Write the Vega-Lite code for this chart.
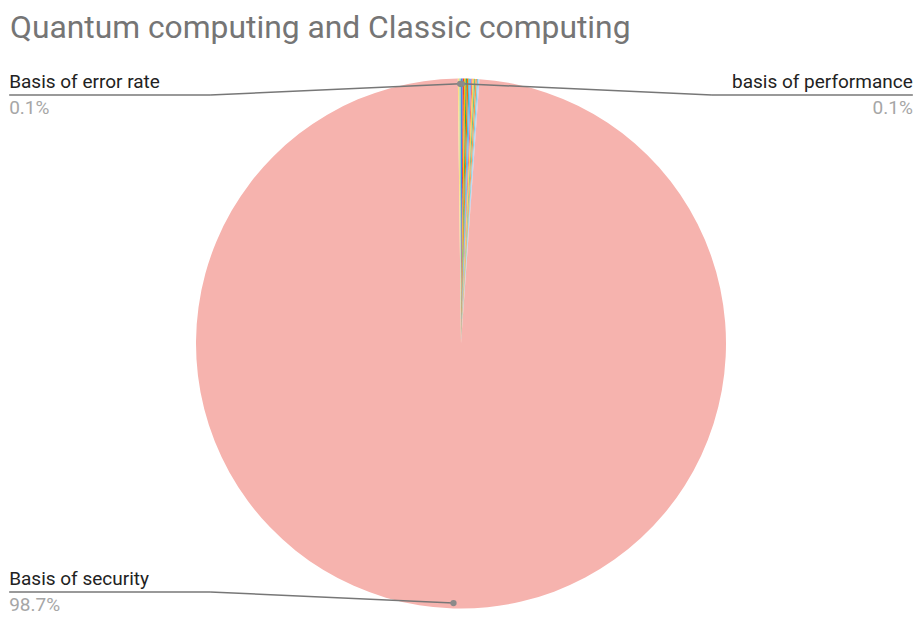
{
  "$schema": "https://vega.github.io/schema/vega-lite/v6.json",
  "width": 915,
  "height": 568,
  "autosize": "none",
  "padding": {"top": 50, "left": 0, "right": 0, "bottom": 0},
  "background": "white",
  "title": {
    "text": "Quantum computing and Classic computing",
    "anchor": "start",
    "frame": "group",
    "orient": "top",
    "offset": 10,
    "dx": 10,
    "dy": 30,
    "baseline": "alphabetic",
    "font": "Roboto",
    "fontSize": 31.8,
    "fontWeight": "normal",
    "color": "#757575"
  },
  "config": {
    "view": {"stroke": null},
    "text": {"font": "Roboto"}
  },
  "data": {
    "values": [
      {"rank": 1, "name": "basis of performance", "value": 0.1},
      {"rank": 2, "name": "Criterion 2", "value": 0.09},
      {"rank": 3, "name": "Criterion 3", "value": 0.09},
      {"rank": 4, "name": "Criterion 4", "value": 0.08},
      {"rank": 5, "name": "Criterion 5", "value": 0.09},
      {"rank": 6, "name": "Criterion 6", "value": 0.08},
      {"rank": 7, "name": "Criterion 7", "value": 0.09},
      {"rank": 8, "name": "Criterion 8", "value": 0.08},
      {"rank": 9, "name": "Criterion 9", "value": 0.09},
      {"rank": 10, "name": "Criterion 10", "value": 0.08},
      {"rank": 11, "name": "Criterion 11", "value": 0.09},
      {"rank": 12, "name": "Criterion 12", "value": 0.08},
      {"rank": 13, "name": "Criterion 13", "value": 0.07},
      {"rank": 14, "name": "Basis of security", "value": 98.7},
      {"rank": 15, "name": "Criterion 15", "value": 0.09},
      {"rank": 16, "name": "Basis of error rate", "value": 0.1}
    ]
  },
  "transform": [
    {"joinaggregate": [{"op": "sum", "field": "value", "as": "total"}]},
    {"window": [{"op": "sum", "field": "value", "as": "cum"}], "sort": [{"field": "rank"}], "frame": [null, 0]},
    {"calculate": "(datum.cum - datum.value / 2) / datum.total * 2 * PI", "as": "mid"},
    {"calculate": "0.98 * sin(datum.mid)", "as": "au"},
    {"calculate": "0.98 * cos(datum.mid)", "as": "av"},
    {"calculate": "datum.au < 0 ? -1 : 1", "as": "side"},
    {"calculate": "0.957 * datum.av", "as": "ly"},
    {"calculate": "datum.side * 1.705", "as": "edge"},
    {"calculate": "datum.side * 0.947", "as": "elbow"},
    {"calculate": "format(datum.value / datum.total, '.1%')", "as": "pct"},
    {"calculate": "0", "as": "cx"}
  ],
  "layer": [
    {
      "mark": {"type": "arc", "radius": 265},
      "encoding": {
        "x": {"field": "cx", "type": "quantitative", "axis": null,
              "scale": {"domain": [-1.7396, 1.7132], "zero": false, "nice": false}},
        "y": {"field": "cx", "type": "quantitative", "axis": null,
              "scale": {"domain": [-1.0358, 1.1075], "zero": false, "nice": false}},
        "theta": {"field": "value", "type": "quantitative", "stack": true},
        "order": {"field": "rank", "type": "quantitative"},
        "color": {
          "field": "name",
          "type": "nominal",
          "legend": null,
          "scale": {
            "domain": ["basis of performance", "Criterion 2", "Criterion 3", "Criterion 4", "Criterion 5", "Criterion 6", "Criterion 7", "Criterion 8", "Criterion 9", "Criterion 10", "Criterion 11", "Criterion 12", "Criterion 13", "Basis of security", "Criterion 15", "Basis of error rate"],
            "range": ["#4285F4", "#EA4335", "#FBBC04", "#34A853", "#FF6D01", "#46BDC6", "#7BAAF7", "#F07B72", "#FCD04F", "#71C287", "#FF994D", "#7ED1D7", "#B3CEFB", "#F6B3AE", "#FDDE83", "#A0D5AC"]
          }
        }
      }
    },
    {
      "transform": [{"filter": "datum.value >= 0.1"}],
      "mark": {"type": "rule", "color": "#777777", "strokeWidth": 1.5},
      "encoding": {
        "x": {"field": "edge", "type": "quantitative"},
        "x2": {"field": "elbow"},
        "y": {"field": "ly", "type": "quantitative"},
        "y2": {"field": "ly"}
      }
    },
    {
      "transform": [{"filter": "datum.value >= 0.1"}],
      "mark": {"type": "rule", "color": "#777777", "strokeWidth": 1.5},
      "encoding": {
        "x": {"field": "elbow", "type": "quantitative"},
        "x2": {"field": "au"},
        "y": {"field": "ly", "type": "quantitative"},
        "y2": {"field": "av"}
      }
    },
    {
      "transform": [{"filter": "datum.value >= 0.1"}],
      "mark": {"type": "point", "filled": true, "color": "#8a8a8a", "size": 40, "opacity": 1},
      "encoding": {
        "x": {"field": "au", "type": "quantitative"},
        "y": {"field": "av", "type": "quantitative"}
      }
    },
    {
      "transform": [{"filter": "datum.value >= 0.1 && datum.side < 0"}],
      "mark": {"type": "text", "align": "left", "baseline": "alphabetic", "dy": -7, "fontSize": 19, "color": "#222222"},
      "encoding": {
        "x": {"field": "edge", "type": "quantitative"},
        "y": {"field": "ly", "type": "quantitative"},
        "text": {"field": "name"}
      }
    },
    {
      "transform": [{"filter": "datum.value >= 0.1 && datum.side > 0"}],
      "mark": {"type": "text", "align": "right", "baseline": "alphabetic", "dy": -7, "fontSize": 19, "color": "#222222"},
      "encoding": {
        "x": {"field": "edge", "type": "quantitative"},
        "y": {"field": "ly", "type": "quantitative"},
        "text": {"field": "name"}
      }
    },
    {
      "transform": [{"filter": "datum.value >= 0.1 && datum.side < 0"}],
      "mark": {"type": "text", "align": "left", "baseline": "alphabetic", "dy": 19, "fontSize": 19, "color": "#a6a6a6"},
      "encoding": {
        "x": {"field": "edge", "type": "quantitative"},
        "y": {"field": "ly", "type": "quantitative"},
        "text": {"field": "pct"}
      }
    },
    {
      "transform": [{"filter": "datum.value >= 0.1 && datum.side > 0"}],
      "mark": {"type": "text", "align": "right", "baseline": "alphabetic", "dy": 19, "fontSize": 19, "color": "#a6a6a6"},
      "encoding": {
        "x": {"field": "edge", "type": "quantitative"},
        "y": {"field": "ly", "type": "quantitative"},
        "text": {"field": "pct"}
      }
    }
  ]
}
